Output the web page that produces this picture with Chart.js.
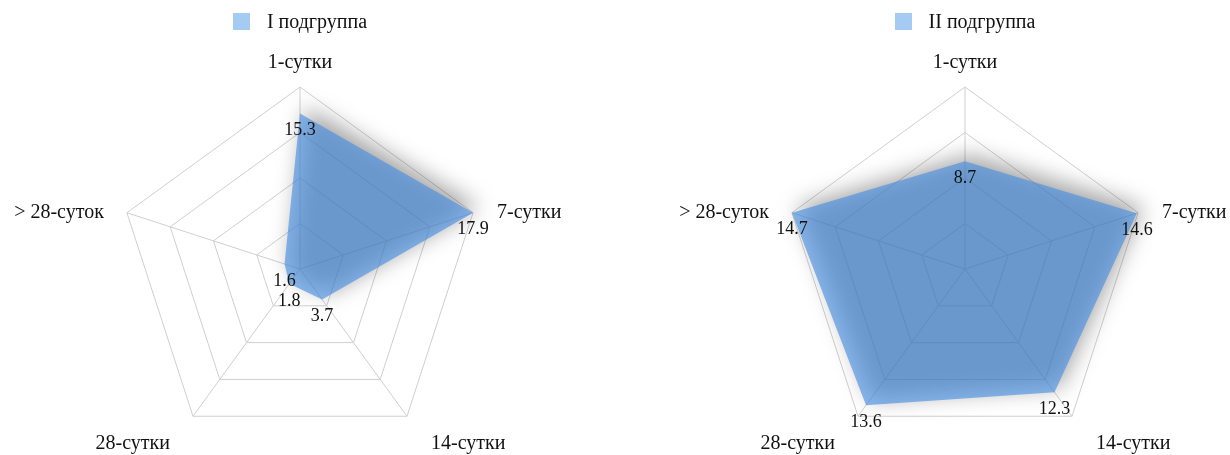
<!DOCTYPE html>
<html>
<head>
<meta charset="utf-8">
<script src="https://cdn.jsdelivr.net/npm/chart.js@4.4.0/dist/chart.umd.min.js"></script>
<style>
    html, body { margin: 0; padding: 0; background: #fff; overflow: hidden; }
    body { width: 1230px; height: 455px; position: relative; font-family: "Liberation Serif", "Times New Roman", serif; }
    .panel { position: absolute; top: 0; width: 600px; height: 455px; }
    .legend { position: absolute; top: 10px; left: 0; width: 100%; display: flex; justify-content: center; align-items: center; font-size: 20px; line-height: 22px; color: #111; }
    .legend .box { width: 17px; height: 17px; margin-right: 17px; }
    canvas { position: absolute; left: 0; top: 0; }
</style>
</head>
<body>
<div class="panel" style="left:0px">
    <canvas id="radarOne" width="600" height="455"></canvas>
    <div class="legend" id="legendOne"></div>
</div>
<div class="panel" style="left:665px">
    <canvas id="radarTwo" width="600" height="455"></canvas>
    <div class="legend" id="legendTwo"></div>
</div>
<script>
"use strict"

const axisLabels = ['1-сутки', '7-сутки', '14-сутки', '28-сутки', '> 28-суток']
const groupNames = ['I подгруппа', 'II подгруппа']
const group1 = [15.3, 17.9, 3.7, 1.8, 1.6]
const group2 = [8.7, 14.6, 12.3, 13.6, 14.7]

const fillColor = 'rgba(74, 144, 226, 0.65)'
const legendColor = '#a6cbf3'
const gridColor = '#cfcfcf'
const serif = '"Liberation Serif", "Times New Roman", serif'

// shadow under the filled polygon, value labels and axis captions
const radarDecor = {
    id: 'radarDecor',
    beforeDatasetsDraw(chart) {
        const ctx = chart.ctx
        ctx.save()
        ctx.shadowColor = 'rgba(0, 0, 0, 0.55)'
        ctx.shadowBlur = 22
        ctx.shadowOffsetX = 6
        ctx.shadowOffsetY = -6
    },
    afterDatasetsDraw(chart) {
        const ctx = chart.ctx
        ctx.restore()

        ctx.save()
        ctx.font = '18px ' + serif
        ctx.fillStyle = '#111'
        ctx.textAlign = 'center'
        ctx.textBaseline = 'middle'
        const meta = chart.getDatasetMeta(0)
        const values = chart.data.datasets[0].data
        meta.data.forEach((pt, i) => {
            ctx.fillText(values[i].toString(), pt.x, pt.y + 17)
        })
        ctx.restore()
    },
    afterDraw(chart) {
        const scale = chart.scales.r
        const ctx = chart.ctx
        ctx.save()
        ctx.font = '20px ' + serif
        ctx.fillStyle = '#111'
        ctx.textBaseline = 'middle'
        chart.data.labels.forEach((label, i) => {
            const p = scale.getPointPosition(i, scale.drawingArea)
            const dx = p.x - scale.xCenter
            const dy = p.y - scale.yCenter
            let x = p.x
            let y = p.y
            if (Math.abs(dx) < 1) {
                ctx.textAlign = 'center'
                y -= 24
            } else {
                ctx.textAlign = dx > 0 ? 'left' : 'right'
                x += dx > 0 ? 24 : -23
                if (dy > 0) y += 28
            }
            ctx.fillText(label, x, y)
        })
        ctx.restore()
    }
}

function drawLegend(id, name) {
    const el = document.getElementById(id)
    const box = document.createElement('span')
    box.className = 'box'
    box.style.background = legendColor
    const text = document.createElement('span')
    text.textContent = name
    el.appendChild(box)
    el.appendChild(text)
}

function drawRadar(canvasId, name, values) {
    return new Chart(document.getElementById(canvasId), {
        type: 'radar',
        data: {
            labels: axisLabels,
            datasets: [{
                label: name,
                data: values,
                backgroundColor: fillColor,
                borderColor: 'transparent',
                borderWidth: 0,
                pointRadius: 0,
                pointHoverRadius: 0,
                fill: true
            }]
        },
        options: {
            responsive: false,
            animation: false,
            events: [],
            devicePixelRatio: 1,
            layout: { padding: { top: 87, bottom: 4 } },
            plugins: {
                legend: { display: false },
                tooltip: { enabled: false }
            },
            scales: {
                r: {
                    min: 0,
                    max: Math.max(...values),
                    ticks: { display: false, count: 5 },
                    grid: { color: gridColor, lineWidth: 1 },
                    angleLines: { color: gridColor, lineWidth: 1 },
                    pointLabels: { display: false }
                }
            }
        },
        plugins: [radarDecor]
    })
}

drawLegend('legendOne', groupNames[0])
drawLegend('legendTwo', groupNames[1])
drawRadar('radarOne', groupNames[0], group1)
drawRadar('radarTwo', groupNames[1], group2)
</script>
</body>
</html>
